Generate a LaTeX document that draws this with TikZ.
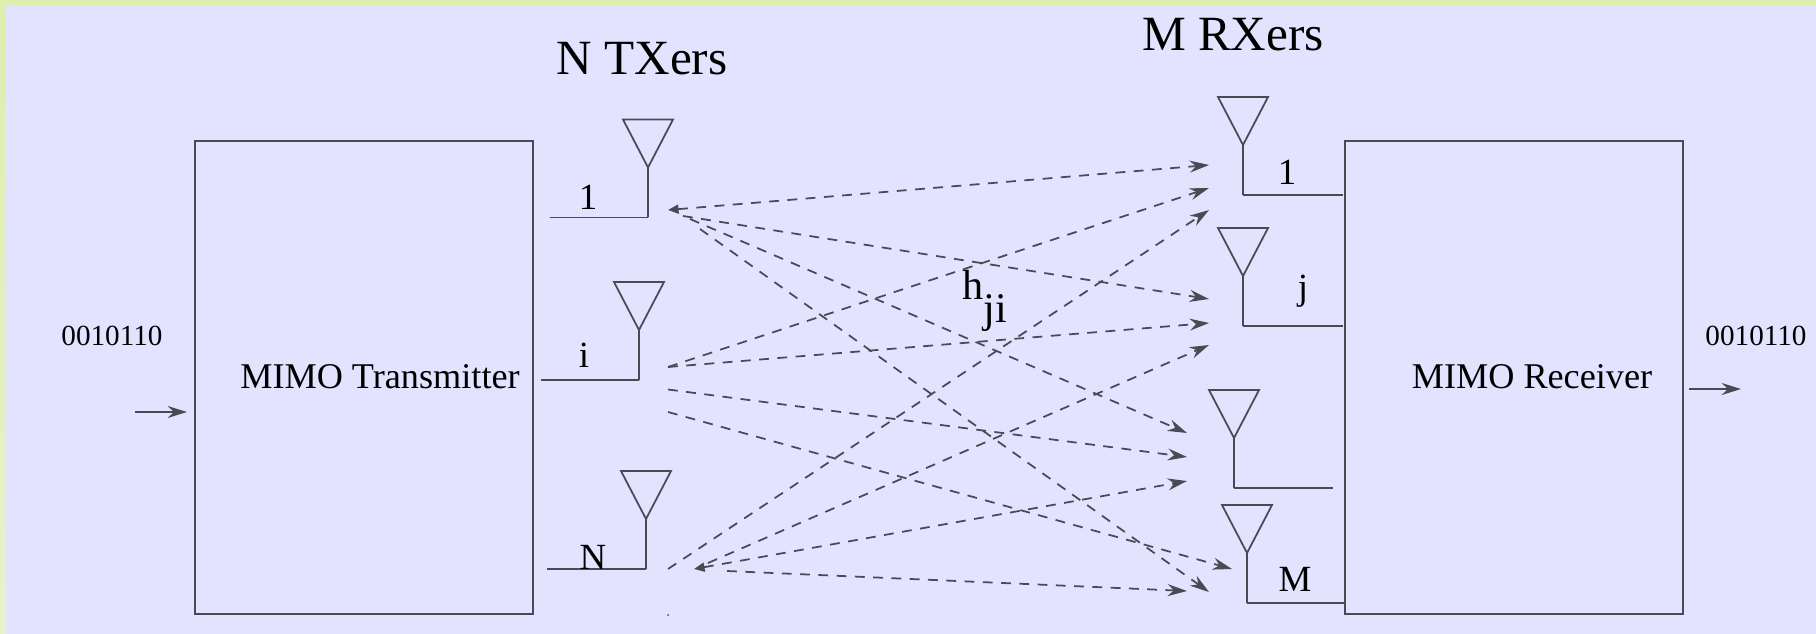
\documentclass[tikz,border=0pt]{standalone}
\usepackage{fontspec}
\setmainfont{Liberation Serif}
\usetikzlibrary{arrows.meta}
\definecolor{fond}{HTML}{E3E3FF}
\definecolor{cadre}{HTML}{DDEFAE}
\definecolor{cadrebas}{HTML}{E6F2CC}
\definecolor{trait}{HTML}{4A4A55}
\begin{document}
\begin{tikzpicture}[x=0.01cm, y=-0.01cm]
	\tikzset{
		bloc/.style={draw=trait, line width=0.5pt},
		texte/.style={anchor=base, inner sep=0pt, font=\fontsize{10.3}{12}\selectfont},
		grand/.style={anchor=base, inner sep=0pt, font=\fontsize{14}{16}\selectfont},
		chiffres/.style={anchor=base, inner sep=0pt, font=\fontsize{8.3}{10}\selectfont},
		etiquette/.style={anchor=base, inner sep=0pt, font=\fontsize{10.5}{12}\selectfont},
		pointe/.style={>={Stealth[length=5.5pt, width=3.4pt, inset=1.8pt]}},
		fleche/.style={pointe, ->, draw=trait, line width=0.5pt, dash pattern=on 2.8pt off 2.4pt},
		double/.style={{Stealth[length=3pt, width=2.6pt, inset=0pt]}-{Stealth[length=5.5pt, width=3.4pt, inset=1.8pt]}},
		antenne/.pic={\draw[bloc] (0,0) -- (0,-50) -- (-25,-98) -- (25,-98) -- (0,-50);}
	};
	\fill[cadre] (0,0) rectangle (1816,6);
	\shade[top color=cadre, bottom color=cadrebas] (0,0) rectangle (6,634);
	\fill[fond] (6,5) rectangle (1816,634);

	\node[bloc, minimum width=3.38cm, minimum height=4.73cm, inner sep=0pt] (tx) at (364,377.5) {};
	\node[bloc, minimum width=3.38cm, minimum height=4.73cm, inner sep=0pt] (rx) at (1514,377.5) {};
	\node[texte] (txnom) at (380,388) {MIMO Transmitter};
	\node[texte] (rxnom) at (1532,388) {MIMO Receiver};
	\node[grand] (ntx) at (642,75) {N TXers};
	\node[grand] (mrx) at (1233,51) {M RXers};
	\node[chiffres] (bitsa) at (112,345) {0010110};
	\node[chiffres] (bitsb) at (1756,345) {0010110};
	\node[anchor=base, inner sep=0pt, font=\fontsize{12}{14}\selectfont] (hji) at (985,300) {h\raisebox{-6.5pt}{ji}};

	\coordinate (ea) at (135,412);
	\coordinate (eb) at (187,412);
	\coordinate (sa) at (1689,389);
	\coordinate (sb) at (1741,389);
	\draw[pointe, ->, bloc] (ea) -- (eb);
	\draw[pointe, ->, bloc] (sa) -- (sb);

	% emetteurs
	\coordinate (t1) at (648,217.5);
	\coordinate (ti) at (639,380);
	\coordinate (tn) at (646,569);
	\coordinate (t1g) at (550,217.5);
	\coordinate (tig) at (541,380);
	\coordinate (tng) at (547,569);
	\pic at (t1) {antenne};
	\pic at (ti) {antenne};
	\pic at (tn) {antenne};
	\draw[bloc] (t1) -- (t1g);
	\draw[bloc] (ti) -- (tig);
	\draw[bloc] (tn) -- (tng);
	\node[etiquette] (l1) at (588,210) {1};
	\node[etiquette] (li) at (584,367) {i};
	\node[etiquette] (ln) at (593,569) {N};

	% recepteurs
	\coordinate (r1) at (1243,195);
	\coordinate (rj) at (1243,326);
	\coordinate (rk) at (1234,488);
	\coordinate (rm) at (1247,603);
	\coordinate (r1d) at (1343,195);
	\coordinate (rjd) at (1343,326);
	\coordinate (rkd) at (1333,488);
	\coordinate (rmd) at (1345,603);
	\pic at (r1) {antenne};
	\pic at (rj) {antenne};
	\pic at (rk) {antenne};
	\pic at (rm) {antenne};
	\draw[bloc] (r1) -- (r1d);
	\draw[bloc] (rj) -- (rjd);
	\draw[bloc] (rk) -- (rkd);
	\draw[bloc] (rm) -- (rmd);
	\node[etiquette] (m1) at (1287,185) {1};
	\node[etiquette] (mj) at (1303,300) {j};
	\node[etiquette] (mm) at (1295,591) {M};

	% departs et arrivees
	\coordinate (da1) at (668,210);
	\coordinate (da2) at (683,216);
	\coordinate (da3) at (690,219);
	\coordinate (da4) at (700,229);
	\coordinate (db1) at (668,367);
	\coordinate (db3) at (668,389.5);
	\coordinate (db4) at (668,412);
	\coordinate (dc1) at (668,569);
	\coordinate (dc2) at (708,563);
	\coordinate (dc3) at (694,569);
	\coordinate (dc4) at (727,571);
	\coordinate (a1a) at (1209,165);
	\coordinate (a1b) at (1209,188);
	\coordinate (a1c) at (1209,210);
	\coordinate (aja) at (1209,299);
	\coordinate (ajb) at (1209,323);
	\coordinate (ajc) at (1209,345);
	\coordinate (aka) at (1187,433);
	\coordinate (akb) at (1187,457);
	\coordinate (akc) at (1187,481);
	\coordinate (ama) at (1232,569);
	\coordinate (amb) at (1209,592);
	\coordinate (amc) at (1187,591);

	\draw[fleche, double] (da1) -- (a1a);
	\draw[fleche] (da2) -- (aja);
	\draw[fleche] (da3) -- (aka);
	\draw[fleche] (da4) -- (amb);
	\draw[fleche] (db1) -- (a1b);
	\draw[fleche] (db1) -- (ajb);
	\draw[fleche] (db3) -- (akb);
	\draw[fleche] (db4) -- (ama);
	\draw[fleche] (dc1) -- (a1c);
	\draw[fleche] (dc2) -- (ajc);
	\draw[fleche, double] (dc3) -- (akc);
	\draw[fleche] (dc4) -- (amc);
	\fill[trait] (668,615) circle (1);
\end{tikzpicture}
\end{document}
